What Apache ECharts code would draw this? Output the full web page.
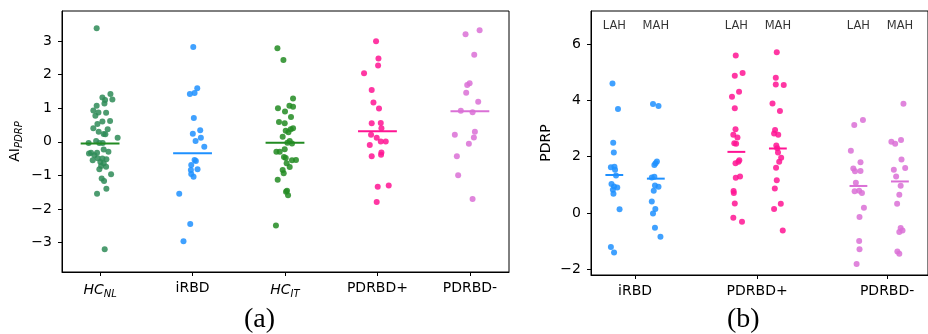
<!DOCTYPE html>
<html>
<head>
<meta charset="utf-8">
<script src="https://cdn.jsdelivr.net/npm/echarts@6/dist/echarts.min.js"></script>
<style>
  html, body { margin: 0; padding: 0; background: #fff; }
  #chart { width: 928px; height: 334px; }
</style>
</head>
<body>
<div id="chart"></div>
<script>
// ---- panel (a): AI_PDRP per group ----
const leftLabels = ['{it|HC}{sub|NL}', 'iRBD', '{it|HC}{sub|IT}', 'PDRBD+', 'PDRBD-'];
const leftColors = ['#2e8b57', '#1e90ff', '#228b22', '#ff1493', '#da70d6'];
const leftMedianColors = ['#228b22', '#1e90ff', '#228b22', '#ff1493', '#da70d6'];
const leftMedians = [-0.05, -0.34, -0.03, 0.31, 0.91];
const leftTicks = [-3, -2, -1, 0, 1, 2, 3];

const hcNlValues = [3.38, 1.42, 1.32, 1.24, 1.26, 1.14, 1.07, 0.93, 0.87, 0.86, 0.77, 0.62, 0.60, 0.53, 0.40,
  0.37, 0.30, 0.23, 0.22, 0.12, -0.04, 0.02, -0.04, -0.04, -0.23, -0.30, -0.33, -0.33, -0.40, -0.49,
  -0.52, -0.60, -0.64, -0.74, -0.72, -0.82, -0.97, -1.09, -1.17, -1.40, -1.55, -3.20, -0.35, -0.50, -0.55];
const hcNlJitter = [-0.037, 0.112, 0.025, 0.054, 0.133, 0.047, -0.037, -0.073, -0.018, 0.065, -0.051, 0.108, 0.025, -0.029, -0.073,
  0.082, -0.015, 0.039, 0.057, 0.19, -0.124, -0.043, 0.028, -0.008, 0.039, 0.09, -0.098, -0.033, -0.062, -0.026,
  0.068, 0.003, 0.039, 0.065, 0.011, -0.008, 0.119, 0.017, 0.043, 0.068, -0.033, 0.05, -0.12, 0.025, -0.08];

const irbdValues = [2.82, 1.59, 1.45, 1.42, 0.71, 0.34, 0.24, 0.12, 0.02, -0.15, -0.54, -0.57, -0.69, -0.82, -0.84, -0.96, -1.04, -1.55, -2.45, -2.96];
const irbdJitter = [0.008, 0.051, 0.022, -0.029, 0.014, 0.083, 0.003, 0.09, 0.033, 0.127, 0.022, 0.036, -0.014, 0.054, -0.018, -0.014, 0.011, -0.144, -0.025, -0.098];

const hcItValues = [2.78, 2.43, 1.29, 1.00, 1.07, 1.04, 0.90, 0.74, 0.59, 0.55, 0.40, 0.37, 0.33, 0.28, 0.15, 0.02, -0.05,
  -0.03, -0.22, -0.30, -0.30, -0.45, -0.48, -0.55, -0.54, -0.64, -0.75, -0.84, -0.94, -1.13, -1.46, -1.59, -1.49, -2.49];
const hcItJitter = [-0.082, -0.017, 0.087, -0.076, 0.048, 0.087, 0, 0.065, -0.065, -0.003, 0.087, 0.062, 0.008, 0.037, -0.025, 0.051, 0.076,
  0.026, -0.003, -0.093, -0.057, -0.011, 0.008, 0.076, 0.119, 0.018, 0.051, -0.025, -0.014, -0.079, 0.022, 0.033, 0.011, -0.098];

const pdPlusValues = [2.99, 2.48, 2.27, 2.04, 1.54, 1.17, 0.99, 0.55, 0.56, 0.40, 0.21, 0.12, 0.01, 0.01, -0.10, -0.32, -0.39, -0.43, -1.34, -1.30, -1.79];
const pdPlusJitter = [-0.015, 0.011, 0.007, -0.145, -0.062, -0.043, 0.017, -0.062, 0.036, 0.043, -0.069, -0.008, 0.036, 0.09, -0.083, 0.043, 0.039, -0.062, 0.003, 0.122, -0.008];

const pdMinusValues = [3.32, 3.20, 2.59, 1.74, 1.69, 1.46, 1.19, 0.92, 0.88, 0.30, 0.21, 0.13, -0.06, -0.43, -1.00, -1.70];
const pdMinusJitter = [0.105, -0.047, 0.047, -0.003, -0.029, -0.04, 0.09, -0.098, 0.029, 0.054, -0.163, 0.043, -0.011, -0.141, -0.127, 0.029];

// ---- panel (b): PDRP per group, split LAH / MAH ----
const rightLabels = ['iRBD', 'PDRBD+', 'PDRBD-'];
const subLabels = ['LAH', 'MAH'];
const rightColors = ['#1e90ff', '#ff1493', '#da70d6'];
const rightMedians = [[1.35, 1.22], [2.17, 2.29], [0.96, 1.12]];
const rightTicks = [-2, 0, 2, 4, 6];

const irbdLahValues = [4.60, 3.69, 2.49, 2.15, 1.62, 1.64, 1.54, 1.33, 1.03, 0.94, 0.91, 0.83, 0.68, 0.13, -1.21, -1.40];
const irbdLahJitter = [-0.015, 0.03, -0.009, -0.004, -0.028, 0.001, 0.006, 0.014, -0.023, -0.002, 0.024, -0.012, -0.007, 0.043, -0.028, -0.002];
const irbdMahValues = [3.87, 3.80, 1.83, 1.77, 1.70, 1.26, 1.29, 0.98, 0.93, 0.79, 0.41, 0.14, -0.02, -0.52, -0.84];
const irbdMahJitter = [-0.023, 0.022, 0.009, -0.002, -0.012, -0.033, -0.012, -0.007, 0.022, -0.017, -0.033, -0.004, -0.023, -0.007, 0.038];

const pdPlusLahValues = [5.59, 4.87, 4.97, 4.30, 4.13, 3.72, 2.97, 2.78, 2.68, 2.48, 2.46, 1.87, 1.77, 1.82, 1.30, 1.25, 0.78, 0.71, 0.34, -0.17, -0.31];
const pdPlusLahJitter = [-0.005, -0.013, 0.051, 0.022, -0.036, -0.013, -0.007, -0.025, 0.009, -0.017, -0.002, 0.024, -0.007, 0.017, 0.03, -0.005, -0.023, -0.021, -0.013, -0.025, 0.046];
const pdPlusMahValues = [5.71, 4.80, 4.56, 4.54, 3.89, 3.62, 2.95, 2.82, 2.78, 2.40, 2.30, 2.15, 1.96, 1.82, 1.61, 1.16, 0.87, 0.33, 0.14, -0.62];
const pdPlusMahJitter = [-0.009, -0.017, -0.017, 0.048, -0.044, 0.017, -0.023, -0.031, 0.003, -0.013, -0.005, 0.001, 0.027, 0.011, -0.015, -0.009, -0.025, 0.024, -0.031, 0.04];

const pdMinusLahValues = [3.12, 3.30, 2.21, 1.58, 1.48, 1.80, 1.49, 1.07, 0.79, 0.71, 0.77, 0.19, -0.14, -0.99, -1.29, -1.81];
const pdMinusLahJitter = [-0.034, 0.037, -0.062, -0.042, -0.028, 0.017, 0.017, -0.021, 0.006, 0.029, -0.031, 0.045, 0.009, 0.006, 0.009, -0.015];
const pdMinusMahValues = [3.88, 2.53, 2.46, 2.59, 1.90, 1.54, 1.60, 1.30, 0.97, 0.65, 0.33, -0.53, -0.62, -0.67, -1.37, -1.45];
const pdMinusMahJitter = [0.029, -0.07, -0.039, 0.009, 0.013, -0.05, 0.043, -0.031, 0.006, -0.005, -0.023, 0.006, 0.021, -0.005, -0.021, -0.005];

const leftPoints = [
  [hcNlValues, hcNlJitter], [irbdValues, irbdJitter], [hcItValues, hcItJitter],
  [pdPlusValues, pdPlusJitter], [pdMinusValues, pdMinusJitter]
];
const rightPoints = [
  [[irbdLahValues, irbdLahJitter], [irbdMahValues, irbdMahJitter]],
  [[pdPlusLahValues, pdPlusLahJitter], [pdPlusMahValues, pdPlusMahJitter]],
  [[pdMinusLahValues, pdMinusLahJitter], [pdMinusMahValues, pdMinusMahJitter]]
];

const FONT = 'DejaVu Sans';
const SUB_OFFSET = 0.17;    // LAH / MAH shift from the group centre
const LEFT_HALF = 0.21;     // half width of the median bars
const RIGHT_HALF = 0.073;
const SUB_LABEL_Y = 6.65;

const fmtMinus = v => (v < 0 ? '\u2212' + (-v) : String(v));

const tickStyle = { show: true, inside: false, length: 4, lineStyle: { color: '#000', width: 1 } };
const labelStyle = { color: '#000', fontFamily: FONT, fontSize: 14 };
const lineStyle = { show: true, onZero: false, lineStyle: { color: '#000' } };

const series = [];

leftPoints.forEach(([vals, jit], i) => {
  series.push({
    type: 'scatter', xAxisIndex: 0, yAxisIndex: 0,
    symbolSize: 6,
    itemStyle: { color: leftColors[i], opacity: 0.85 },
    data: vals.map((v, k) => [i + jit[k], v]),
    z: 2
  });
  series.push({
    type: 'line', xAxisIndex: 0, yAxisIndex: 0,
    symbol: 'none', silent: true,
    lineStyle: { color: leftMedianColors[i], width: 2 },
    data: [[i - LEFT_HALF, leftMedians[i]], [i + LEFT_HALF, leftMedians[i]]],
    z: 3
  });
});

const subLabelData = [];
rightPoints.forEach((pair, g) => {
  pair.forEach(([vals, jit], s) => {
    const cx = g + (s === 0 ? -SUB_OFFSET : SUB_OFFSET);
    series.push({
      type: 'scatter', xAxisIndex: 1, yAxisIndex: 1,
      symbolSize: 6,
      itemStyle: { color: rightColors[g], opacity: 0.85 },
      data: vals.map((v, k) => [cx + jit[k], v]),
      z: 2
    });
    series.push({
      type: 'line', xAxisIndex: 1, yAxisIndex: 1,
      symbol: 'none', silent: true,
      lineStyle: { color: rightColors[g], width: 2 },
      data: [[cx - RIGHT_HALF, rightMedians[g][s]], [cx + RIGHT_HALF, rightMedians[g][s]]],
      z: 3
    });
    subLabelData.push({ value: [cx, SUB_LABEL_Y], name: subLabels[s] });
  });
});

series.push({
  type: 'scatter', xAxisIndex: 1, yAxisIndex: 1,
  symbolSize: 0, silent: true,
  label: {
    show: true, position: 'inside', formatter: p => p.name,
    color: '#000', fontFamily: FONT, fontSize: 11.5
  },
  data: subLabelData
});

const chart = echarts.init(document.getElementById('chart'), null, { renderer: 'canvas' });

chart.setOption({
  animation: false,
  backgroundColor: '#fff',
  title: [
    { text: '(a)', left: 239, top: 301, textStyle: { fontFamily: 'Liberation Serif', fontSize: 28, fontWeight: 'normal', color: '#000' } },
    { text: '(b)', left: 722, top: 301, textStyle: { fontFamily: 'Liberation Serif', fontSize: 28, fontWeight: 'normal', color: '#000' } }
  ],
  grid: [
    { left: 62, top: 11, right: 419, bottom: 62, show: true, borderColor: '#000', borderWidth: 1, backgroundColor: 'transparent' },
    { left: 591, top: 11, right: -14, bottom: 59, show: true, borderColor: '#000', borderWidth: 1, backgroundColor: 'transparent' }
  ],
  xAxis: [
    {
      gridIndex: 0, type: 'value', min: -0.412, max: 4.423,
      splitLine: { show: false },
      axisLine: lineStyle,
      axisTick: Object.assign({}, tickStyle, { customValues: [0, 1, 2, 3, 4] }),
      axisLabel: Object.assign({}, labelStyle, {
        margin: 9,
        customValues: [0, 1, 2, 3, 4],
        formatter: v => leftLabels[Math.round(v)],
        rich: {
          it: { fontFamily: FONT, fontSize: 14, fontStyle: 'italic', color: '#000', lineHeight: 18 },
          sub: { fontFamily: FONT, fontSize: 10, fontStyle: 'italic', color: '#000', verticalAlign: 'bottom', lineHeight: 12 }
        }
      })
    },
    {
      gridIndex: 1, type: 'value', min: -0.361, max: 2.4,
      splitLine: { show: false },
      axisLine: lineStyle,
      axisTick: Object.assign({}, tickStyle, { customValues: [0, 1, 2.065] }),
      axisLabel: Object.assign({}, labelStyle, {
        margin: 9,
        customValues: [0, 1, 2.065],
        formatter: v => rightLabels[Math.round(v)]
      })
    }
  ],
  yAxis: [
    {
      gridIndex: 0, type: 'value', min: -3.875, max: 3.89,
      splitLine: { show: false },
      axisLine: lineStyle,
      axisTick: Object.assign({}, tickStyle, { customValues: leftTicks }),
      axisLabel: Object.assign({}, labelStyle, { margin: 10, customValues: leftTicks, formatter: fmtMinus }),
      name: '{n|AI}{s|PDRP}',
      nameLocation: 'middle', nameGap: 38, nameRotate: 90,
      nameTextStyle: {
        rich: {
          n: { fontFamily: FONT, fontSize: 14, color: '#000', lineHeight: 18 },
          s: { fontFamily: FONT, fontSize: 10, fontStyle: 'italic', color: '#000', verticalAlign: 'bottom', lineHeight: 12 }
        }
      }
    },
    {
      gridIndex: 1, type: 'value', min: -2.2, max: 7.17,
      splitLine: { show: false },
      axisLine: lineStyle,
      axisTick: Object.assign({}, tickStyle, { customValues: rightTicks }),
      axisLabel: Object.assign({}, labelStyle, { margin: 10, customValues: rightTicks, formatter: fmtMinus }),
      name: 'PDRP',
      nameLocation: 'middle', nameGap: 38, nameRotate: 90,
      nameTextStyle: { fontFamily: FONT, fontSize: 14, color: '#000' }
    }
  ],
  series: series
});
</script>
</body>
</html>
